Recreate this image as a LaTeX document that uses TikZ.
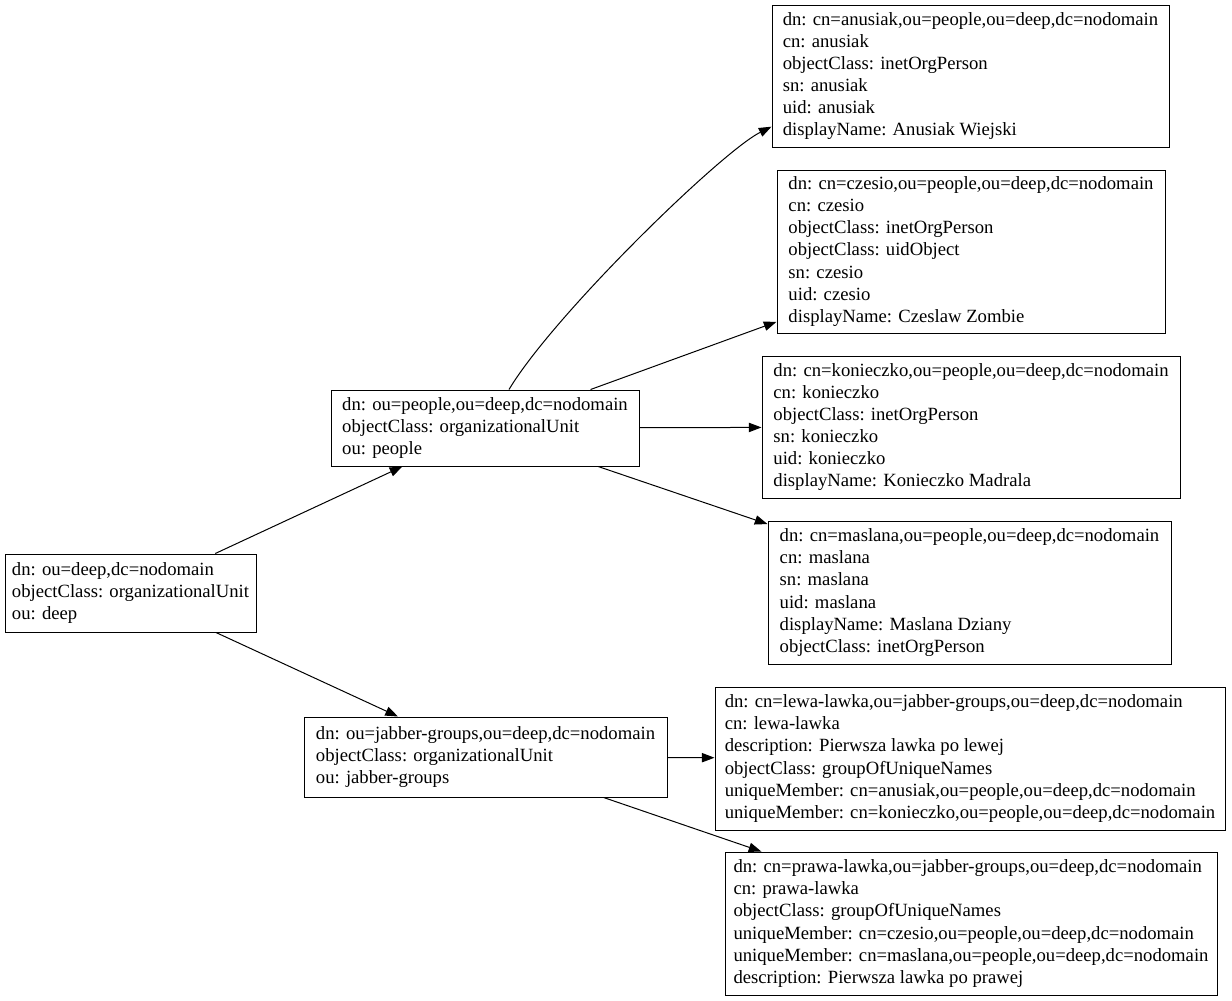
\documentclass[tikz,border=0pt]{standalone}
\usepackage{fontspec}
\setmainfont{Liberation Serif}
\usetikzlibrary{arrows.meta}
\begin{document}
\begin{tikzpicture}[x=0.75pt,y=-0.75pt,
  entry/.style={draw,line width=0.75pt,inner sep=0pt,align=left,
    font=\fontsize{14pt}{16.6pt}\selectfont},
  link/.style={line width=0.75pt,-{Triangle[length=9.5pt,width=7pt]}}]
\useasboundingbox (0,0) rectangle (1232,1000);
\node[entry,minimum width=188.25pt,minimum height=58.5pt] (root) at (130.5,593)
  {dn: ou=deep,dc=nodomain\\objectClass: organizationalUnit\\ou: deep};
\node[entry,minimum width=231pt,minimum height=57pt] (people) at (485,428)
  {dn: ou=people,ou=deep,dc=nodomain\\objectClass: organizationalUnit\\ou: people};
\node[entry,minimum width=272.25pt,minimum height=60pt] (jabber) at (485.5,757)
  {dn: ou=jabber-groups,ou=deep,dc=nodomain\\objectClass: organizationalUnit\\ou: jabber-groups};
\node[entry,minimum width=297.75pt,minimum height=106.5pt] (anusiak) at (970.5,76)
  {dn: cn=anusiak,ou=people,ou=deep,dc=nodomain\\cn: anusiak\\objectClass: inetOrgPerson\\sn: anusiak\\uid: anusiak\\displayName: Anusiak Wiejski};
\node[entry,minimum width=291pt,minimum height=122.25pt] (czesio) at (971,251.5)
  {dn: cn=czesio,ou=people,ou=deep,dc=nodomain\\cn: czesio\\objectClass: inetOrgPerson\\objectClass: uidObject\\sn: czesio\\uid: czesio\\displayName: Czeslaw Zombie};
\node[entry,minimum width=313.5pt,minimum height=106.5pt] (konieczko) at (971,427)
  {dn: cn=konieczko,ou=people,ou=deep,dc=nodomain\\cn: konieczko\\objectClass: inetOrgPerson\\sn: konieczko\\uid: konieczko\\displayName: Konieczko Madrala};
\node[entry,minimum width=302.25pt,minimum height=107.25pt] (maslana) at (969.5,592.5)
  {dn: cn=maslana,ou=people,ou=deep,dc=nodomain\\cn: maslana\\sn: maslana\\uid: maslana\\displayName: Maslana Dziany\\objectClass: inetOrgPerson};
\node[entry,minimum width=382.5pt,minimum height=107.25pt] (lewa) at (970,758.5)
  {dn: cn=lewa-lawka,ou=jabber-groups,ou=deep,dc=nodomain\\cn: lewa-lawka\\description: Pierwsza lawka po lewej\\objectClass: groupOfUniqueNames\\uniqueMember: cn=anusiak,ou=people,ou=deep,dc=nodomain\\uniqueMember: cn=konieczko,ou=people,ou=deep,dc=nodomain};
\node[entry,minimum width=369pt,minimum height=107.25pt] (prawa) at (971,923.5)
  {dn: cn=prawa-lawka,ou=jabber-groups,ou=deep,dc=nodomain\\cn: prawa-lawka\\objectClass: groupOfUniqueNames\\uniqueMember: cn=czesio,ou=people,ou=deep,dc=nodomain\\uniqueMember: cn=maslana,ou=people,ou=deep,dc=nodomain\\description: Pierwsza lawka po prawej};
\draw[link] (root) -- (people);
\draw[link] (root) -- (jabber);
\draw[link] ([xshift=18pt]people.north) .. controls +(45,-75) and +(-50,25) .. ([yshift=-38pt]anusiak.west);
\draw[link] (people) -- (czesio);
\draw[link] (people) -- (konieczko);
\draw[link] (people) -- (maslana);
\draw[link] (jabber) -- (lewa);
\draw[link] (jabber) -- (prawa);
\end{tikzpicture}
\end{document}
